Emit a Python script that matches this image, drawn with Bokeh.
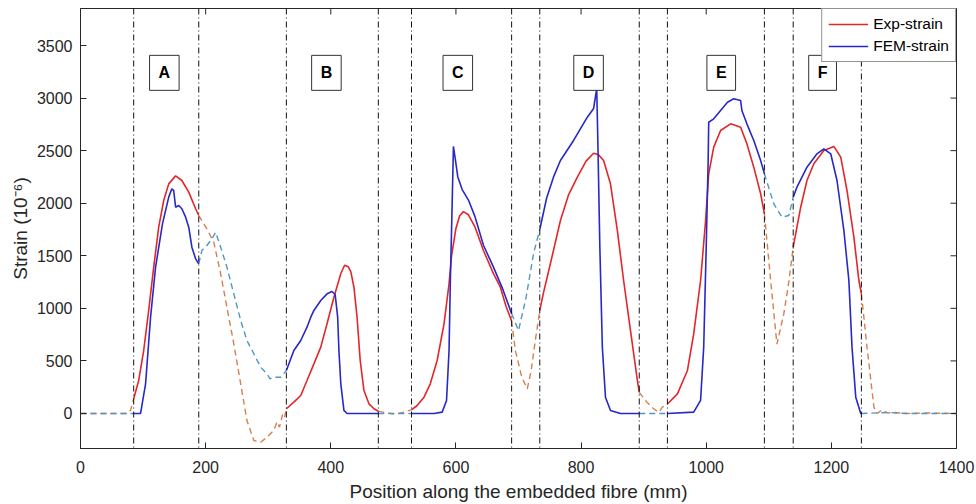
import numpy as np
from bokeh.plotting import figure
from bokeh.models import Range1d, Span, Label, Legend, LegendItem, FixedTicker
from bokeh.embed import file_html
from bokeh.resources import INLINE

# ---------------- data ----------------
x_ticks = [0, 200, 400, 600, 800, 1000, 1200, 1400]
y_ticks = [0, 500, 1000, 1500, 2000, 2500, 3000, 3500]
x_lim = (0, 1400)
y_lim = (-333, 3852)

region_bounds = [85, 189, 329, 476, 529, 689, 734, 893, 938, 1093, 1139, 1248]
region_names = ["A", "B", "C", "D", "E", "F"]
region_label_x = [134, 393, 603, 812, 1024, 1186]
region_label_y = 3240

exp_x = [0, 40, 75, 80, 85, 93, 101, 109, 117, 125, 133, 141, 152, 162, 173, 184, 189,
         202, 213, 224, 234, 245, 256, 266, 277, 288, 298, 309, 314, 318, 323, 326, 329,
         341, 352, 362, 373, 384, 394, 405, 416, 422, 428, 432, 437, 442, 447, 453, 461, 469, 476,
         490, 502, 515, 529,
         538, 549, 559, 570, 581, 589, 593, 600, 606, 612, 620, 630, 644, 660, 671, 680, 689,
         695, 705, 714, 720, 727, 734,
         740, 750, 767, 780, 794, 808, 820, 828, 836, 847, 858, 868, 879, 890, 893,
         905, 915, 924, 930, 938,
         954, 970, 980, 991, 999, 1004, 1012, 1023, 1039, 1055, 1065, 1076, 1087, 1093,
         1103, 1113, 1124, 1132, 1139,
         1151, 1161, 1172, 1188, 1204, 1215, 1225, 1236, 1244, 1248,
         1257, 1268, 1273, 1280, 1290, 1300, 1320, 1350, 1400]
exp_y = [0, 0, 0, 30, 140, 314, 599, 980, 1392, 1772, 2026, 2184, 2260, 2216, 2105, 1947, 1883,
         1756, 1629, 1329, 1011, 663, 282, -67, -257, -273, -225, -160, -80, -130, -10, -40, 45,
         108, 171, 314, 472, 631, 853, 1106, 1329, 1410, 1395, 1350, 1201, 916, 504, 219, 92, 45, 22,
         5, -5, 10, 35,
         76, 155, 282, 504, 853, 1234, 1500, 1760, 1880, 1920, 1890, 1780, 1550, 1330, 1201, 1020, 880,
         600, 350, 235, 400, 700, 980,
         1150, 1400, 1836, 2080, 2248, 2400, 2475, 2460, 2406, 2185, 1740, 1265, 789, 314, 200,
         110, 50, 10, 60, 90,
         187, 409, 758, 1265, 1836, 2280, 2533, 2692, 2755, 2723, 2565, 2343, 2090, 1900,
         1265, 660, 948, 1250, 1582,
         1962, 2216, 2375, 2501, 2540, 2438, 2121, 1677, 1265, 1138,
         631, 60, 0, 30, 5, 10, 0, 5, 0]

fem_x = [0, 85, 96, 104, 112, 120, 131, 141, 146, 149, 152, 157, 162, 168, 173, 178, 184, 189,
         194, 202, 210, 216, 224, 234, 245, 256, 266, 277, 288, 298, 303, 309, 320, 329,
         341, 352, 362, 368, 373, 384, 394, 402, 407, 411, 413, 416, 421, 426, 476,
         529,
         565, 578, 585, 589, 591, 594, 596, 599, 603, 610, 620, 630, 644, 660, 675, 689,
         700, 712, 724, 734,
         745, 756, 767, 788, 810, 820, 825, 827, 830, 834, 839, 847, 863, 893,
         938,
         980, 991, 996, 1000, 1003, 1004, 1012, 1023, 1034, 1044, 1055, 1057, 1065, 1076, 1087, 1093,
         1108, 1121, 1132, 1139,
         1145, 1161, 1177, 1188, 1199, 1209, 1220, 1228, 1233, 1239, 1247, 1248,
         1290, 1320, 1400]
fem_y = [0, 0, 0, 282, 916, 1392, 1804, 2058, 2137, 2120, 1962, 1978, 1947, 1867, 1772, 1582, 1471, 1424,
         1550, 1598, 1661, 1724, 1582, 1392, 1138, 885, 694, 568, 440, 377, 330, 345, 345, 409,
         599, 694, 821, 916, 980, 1075, 1138, 1160, 1132, 916, 599, 282, 29, 0, 0,
         0,
         0, 13, 124, 599, 1234, 2000, 2540, 2420, 2250, 2130, 2030, 1880, 1600, 1392, 1180, 950,
         789, 1100, 1520, 1750,
         2050, 2250, 2406, 2597, 2818, 2900, 3090, 2533, 1582, 631, 155, 29, 0, 0,
         0,
         13, 124, 631, 1582, 2375, 2770, 2803, 2882, 2961, 2993, 2977, 2882, 2755, 2597, 2406, 2280,
         1994, 1867, 1883, 2057,
         2153, 2343, 2470, 2517, 2470, 2216, 1741, 1265, 631, 155, 0, 0,
         10, 0, 0]

# ---------------- helpers ----------------
def segment(xs, ys, lo, hi):
    xs = np.asarray(xs, float)
    ys = np.asarray(ys, float)
    m = (xs > lo) & (xs < hi)
    sx = np.concatenate([[lo], xs[m], [hi]])
    sy = np.concatenate([[np.interp(lo, xs, ys)], ys[m], [np.interp(hi, xs, ys)]])
    return list(sx), list(sy)

solid_iv = [(region_bounds[i], region_bounds[i + 1]) for i in range(0, len(region_bounds), 2)]
edges = [x_lim[0]] + region_bounds + [x_lim[1]]
dash_iv = [(edges[i], edges[i + 1]) for i in range(0, len(edges), 2)]

def split(xs, ys, ivs):
    X, Y = [], []
    for lo, hi in ivs:
        sx, sy = segment(xs, ys, lo, hi)
        X.append(sx)
        Y.append(sy)
    return X, Y

FONT = "Liberation Sans"
AX = "#262626"

p = figure(width=976, height=504, output_backend="svg", toolbar_location=None,
           x_range=Range1d(*x_lim), y_range=Range1d(*y_lim),
           min_border_left=80, min_border_right=20, min_border_top=8, min_border_bottom=56)
p.grid.visible = False
p.outline_line_color = AX
p.outline_line_width = 1
p.background_fill_color = "white"
p.border_fill_color = "white"

for b in region_bounds:
    p.add_layout(Span(location=b, dimension="height", line_color="#111111",
                      line_width=1, line_dash="6 3 1 3"))

ex_s, ey_s = split(exp_x, exp_y, solid_iv)
fx_s, fy_s = split(fem_x, fem_y, solid_iv)
ex_d, ey_d = split(exp_x, exp_y, dash_iv)
fx_d, fy_d = split(fem_x, fem_y, dash_iv)

p.multi_line(ex_d, ey_d, line_color="#d5814f", line_width=1.4, line_dash="6 4")
p.multi_line(fx_d, fy_d, line_color="#4f98c4", line_width=1.4, line_dash="6 4")
r_exp = p.multi_line(ex_s, ey_s, line_color="#e3262a", line_width=1.6)
r_fem = p.multi_line(fx_s, fy_s, line_color="#2828c8", line_width=1.6)

# mirrored inward ticks on the right and top frame edges
p.ray(x=[x_lim[1]] * len(y_ticks), y=y_ticks, length=6, length_units="screen",
      angle=np.pi, line_color=AX, line_width=1)
p.ray(x=x_ticks, y=[y_lim[1]] * len(x_ticks), length=6, length_units="screen",
      angle=-np.pi / 2, line_color=AX, line_width=1)

for name, lx in zip(region_names, region_label_x):
    p.add_layout(Label(x=lx, y=region_label_y, text=name, text_align="center",
                       text_baseline="middle", text_font=FONT, text_font_style="bold",
                       text_font_size="16px", text_color="black",
                       border_line_color="#333333", border_line_width=1,
                       background_fill_color="white", padding=9))

# axes styling
for ax in (p.xaxis, p.yaxis):
    ax.axis_line_color = AX
    ax.major_tick_line_color = AX
    ax.minor_tick_line_color = None
    ax.major_tick_in = 6
    ax.major_tick_out = 0
    ax.major_label_text_font = FONT
    ax.major_label_text_font_size = "16px"
    ax.major_label_text_color = AX
    ax.axis_label_text_font = FONT
    ax.axis_label_text_font_size = "19px"
    ax.axis_label_text_font_style = "normal"
    ax.axis_label_text_color = AX

p.xaxis.ticker = FixedTicker(ticks=x_ticks)
p.yaxis.ticker = FixedTicker(ticks=y_ticks)
p.xaxis.axis_label = "Position along the embedded fibre (mm)"
p.yaxis.axis_label = "Strain (10\u207b\u2076)"
p.xaxis.major_label_standoff = 12
p.xaxis.axis_label_standoff = 5
p.yaxis.major_label_standoff = 8
p.yaxis.axis_label_standoff = 3

legend = Legend(items=[LegendItem(label="Exp-strain", renderers=[r_exp]),
                       LegendItem(label="FEM-strain", renderers=[r_fem])],
                location="top_right", margin=0, padding=6, spacing=4,
                label_height=18, glyph_height=18, glyph_width=40, label_standoff=5,
                label_text_font=FONT, label_text_font_size="15.5px", label_text_color="black",
                border_line_color=AX, border_line_width=1,
                background_fill_color="white", background_fill_alpha=1)
p.add_layout(legend)

open("out.html", "w").write(file_html(p, INLINE))
